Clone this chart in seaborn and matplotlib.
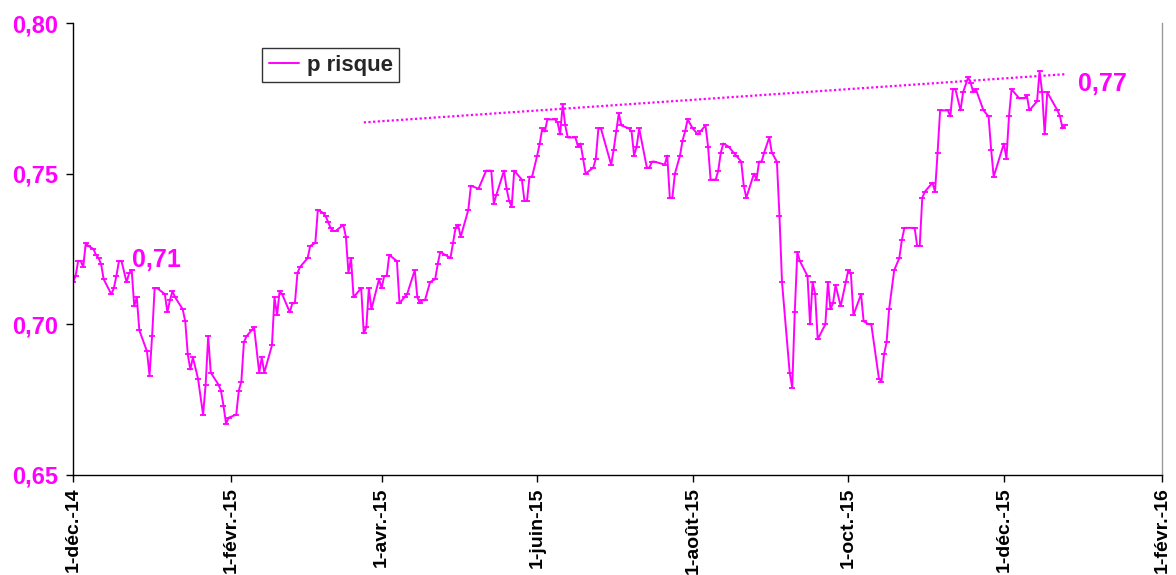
import matplotlib
matplotlib.use("Agg")
import matplotlib.pyplot as plt
import pandas as pd
import seaborn as sns

# Daily "p risque" readings, Dec 2014 - Dec 2015
obs_dates = [
    "2014-12-01", "2014-12-02", "2014-12-03", "2014-12-04", "2014-12-05", "2014-12-06",
    "2014-12-07", "2014-12-09", "2014-12-10", "2014-12-11", "2014-12-12", "2014-12-13",
    "2014-12-16", "2014-12-17", "2014-12-18", "2014-12-19", "2014-12-20", "2014-12-22",
    "2014-12-23", "2014-12-24", "2014-12-25", "2014-12-26", "2014-12-27", "2014-12-30",
    "2014-12-31",
    "2015-01-01", "2015-01-02", "2015-01-03", "2015-01-06", "2015-01-07", "2015-01-08",
    "2015-01-09", "2015-01-10", "2015-01-13", "2015-01-14", "2015-01-15", "2015-01-16",
    "2015-01-17", "2015-01-19", "2015-01-21", "2015-01-22", "2015-01-23", "2015-01-24",
    "2015-01-27", "2015-01-28", "2015-01-29", "2015-01-30", "2015-01-31",
    "2015-02-03", "2015-02-04", "2015-02-05", "2015-02-06", "2015-02-07", "2015-02-09",
    "2015-02-10", "2015-02-12", "2015-02-13", "2015-02-14", "2015-02-17", "2015-02-18",
    "2015-02-19", "2015-02-20", "2015-02-21", "2015-02-24", "2015-02-25", "2015-02-26",
    "2015-02-27", "2015-02-28",
    "2015-03-03", "2015-03-04", "2015-03-06", "2015-03-07", "2015-03-09", "2015-03-10",
    "2015-03-11", "2015-03-12", "2015-03-13", "2015-03-14", "2015-03-17", "2015-03-18",
    "2015-03-19", "2015-03-20", "2015-03-21", "2015-03-24", "2015-03-25", "2015-03-26",
    "2015-03-27", "2015-03-28", "2015-03-31",
    "2015-04-01", "2015-04-02", "2015-04-03", "2015-04-04", "2015-04-07", "2015-04-08",
    "2015-04-10", "2015-04-11", "2015-04-14", "2015-04-15", "2015-04-16", "2015-04-17",
    "2015-04-18", "2015-04-20", "2015-04-22", "2015-04-23", "2015-04-24", "2015-04-26",
    "2015-04-28", "2015-04-29", "2015-04-30",
    "2015-05-01", "2015-05-02", "2015-05-05", "2015-05-06", "2015-05-09", "2015-05-12",
    "2015-05-14", "2015-05-15", "2015-05-16", "2015-05-19", "2015-05-20", "2015-05-21",
    "2015-05-22", "2015-05-23", "2015-05-26", "2015-05-27", "2015-05-28", "2015-05-29",
    "2015-05-30",
    "2015-06-01", "2015-06-02", "2015-06-03", "2015-06-04", "2015-06-05", "2015-06-08",
    "2015-06-09", "2015-06-10", "2015-06-11", "2015-06-12", "2015-06-13", "2015-06-16",
    "2015-06-17", "2015-06-18", "2015-06-19", "2015-06-20", "2015-06-23", "2015-06-24",
    "2015-06-25", "2015-06-26", "2015-06-30",
    "2015-07-01", "2015-07-02", "2015-07-03", "2015-07-04", "2015-07-07", "2015-07-08",
    "2015-07-09", "2015-07-10", "2015-07-11", "2015-07-14", "2015-07-15", "2015-07-16",
    "2015-07-17", "2015-07-21", "2015-07-22", "2015-07-23", "2015-07-24", "2015-07-25",
    "2015-07-27", "2015-07-28", "2015-07-29", "2015-07-30",
    "2015-08-01", "2015-08-03", "2015-08-04", "2015-08-06", "2015-08-07", "2015-08-08",
    "2015-08-10", "2015-08-11", "2015-08-12", "2015-08-13", "2015-08-15", "2015-08-17",
    "2015-08-18", "2015-08-20", "2015-08-21", "2015-08-22", "2015-08-25", "2015-08-26",
    "2015-08-27", "2015-08-28", "2015-08-29", "2015-08-31",
    "2015-09-01", "2015-09-03", "2015-09-04", "2015-09-05", "2015-09-08", "2015-09-09",
    "2015-09-10", "2015-09-11", "2015-09-12", "2015-09-15", "2015-09-16", "2015-09-17",
    "2015-09-18", "2015-09-19", "2015-09-22", "2015-09-23", "2015-09-24", "2015-09-25",
    "2015-09-26", "2015-09-28", "2015-09-30",
    "2015-10-01", "2015-10-02", "2015-10-03", "2015-10-06", "2015-10-07", "2015-10-09",
    "2015-10-10", "2015-10-13", "2015-10-14", "2015-10-15", "2015-10-16", "2015-10-17",
    "2015-10-19", "2015-10-21", "2015-10-22", "2015-10-23", "2015-10-27", "2015-10-28",
    "2015-10-29", "2015-10-30", "2015-10-31",
    "2015-11-03", "2015-11-04", "2015-11-05", "2015-11-06", "2015-11-09", "2015-11-10",
    "2015-11-11", "2015-11-12", "2015-11-14", "2015-11-15", "2015-11-17", "2015-11-18",
    "2015-11-19", "2015-11-20", "2015-11-23", "2015-11-25", "2015-11-26", "2015-11-27",
    "2015-12-01", "2015-12-02", "2015-12-03", "2015-12-04", "2015-12-07", "2015-12-09",
    "2015-12-10", "2015-12-11", "2015-12-14", "2015-12-15", "2015-12-16", "2015-12-17",
    "2015-12-18", "2015-12-22", "2015-12-23", "2015-12-24", "2015-12-25",
]

p_risque = [
    0.714, 0.716, 0.721, 0.721, 0.719, 0.727,
    0.726, 0.725, 0.723, 0.722, 0.720, 0.715,
    0.710, 0.712, 0.716, 0.721, 0.721, 0.714,
    0.717, 0.718, 0.706, 0.709, 0.698, 0.691,
    0.683,
    0.696, 0.712, 0.712, 0.710, 0.704, 0.708,
    0.711, 0.709, 0.705, 0.701, 0.690, 0.685,
    0.689, 0.682, 0.670, 0.680, 0.696, 0.684,
    0.680, 0.678, 0.673, 0.667, 0.669,
    0.670, 0.678, 0.681, 0.694, 0.696, 0.698,
    0.699, 0.684, 0.689, 0.684, 0.693, 0.709,
    0.703, 0.711, 0.710, 0.704, 0.707, 0.707,
    0.717, 0.719,
    0.722, 0.726, 0.727, 0.738, 0.737, 0.736,
    0.734, 0.732, 0.731, 0.731, 0.733, 0.729,
    0.717, 0.722, 0.709, 0.712, 0.697, 0.699,
    0.712, 0.705, 0.715,
    0.712, 0.716, 0.716, 0.723, 0.721, 0.707,
    0.709, 0.710, 0.718, 0.709, 0.707, 0.708,
    0.708, 0.714, 0.715, 0.720, 0.724, 0.723,
    0.722, 0.727, 0.732,
    0.733, 0.729, 0.738, 0.746, 0.745, 0.751,
    0.751, 0.740, 0.743, 0.751, 0.745, 0.741,
    0.739, 0.751, 0.748, 0.741, 0.741, 0.749,
    0.749,
    0.756, 0.760, 0.765, 0.764, 0.768, 0.768,
    0.767, 0.763, 0.773, 0.766, 0.762, 0.762,
    0.759, 0.760, 0.755, 0.750, 0.752, 0.755,
    0.765, 0.765, 0.753,
    0.758, 0.764, 0.770, 0.766, 0.765, 0.764,
    0.756, 0.759, 0.765, 0.752, 0.752, 0.754,
    0.754, 0.753, 0.756, 0.742, 0.742, 0.750,
    0.756, 0.761, 0.764, 0.768,
    0.765, 0.763, 0.764, 0.766, 0.759, 0.748,
    0.748, 0.751, 0.757, 0.760, 0.759, 0.757,
    0.756, 0.754, 0.746, 0.742, 0.750, 0.748,
    0.754, 0.754, 0.757, 0.762,
    0.757, 0.754, 0.736, 0.714, 0.684, 0.679,
    0.704, 0.724, 0.721, 0.716, 0.700, 0.714,
    0.710, 0.695, 0.700, 0.714, 0.705, 0.707,
    0.713, 0.706, 0.714,
    0.718, 0.717, 0.703, 0.710, 0.701, 0.700,
    0.700, 0.682, 0.681, 0.690, 0.694, 0.705,
    0.718, 0.722, 0.728, 0.732, 0.732, 0.726,
    0.726, 0.742, 0.744,
    0.747, 0.744, 0.757, 0.771, 0.771, 0.769,
    0.778, 0.778, 0.771, 0.777, 0.782, 0.780,
    0.777, 0.778, 0.771, 0.769, 0.758, 0.749,
    0.760, 0.755, 0.769, 0.778, 0.775, 0.775,
    0.776, 0.771, 0.774, 0.784, 0.777, 0.763,
    0.777, 0.771, 0.769, 0.765, 0.766,
]

# Rising line through the upper peaks
trend_dates = ["2015-03-25", "2015-12-25"]
trend_values = [0.767, 0.783]

# Value call-outs
callout_text = ["0,71", "0,77"]
callout_dates = ["2014-12-24", "2015-12-30"]
callout_values = [0.719, 0.7775]

# Axis ticks
x_tick_dates = ["2014-12-01", "2015-02-01", "2015-04-01", "2015-06-01",
                "2015-08-01", "2015-10-01", "2015-12-01", "2016-02-01"]
x_tick_labels = ["1-déc.-14", "1-févr.-15", "1-avr.-15", "1-juin-15",
                 "1-août-15", "1-oct.-15", "1-déc.-15", "1-févr.-16"]
y_ticks = [0.65, 0.70, 0.75, 0.80]
y_tick_labels = ["0,65", "0,70", "0,75", "0,80"]

MAGENTA = "#FF00FF"

sns.set_style("ticks")
plt.rcParams["font.family"] = ["Liberation Sans", "DejaVu Sans"]
plt.rcParams["font.weight"] = "bold"

df = pd.DataFrame({"date": pd.to_datetime(obs_dates), "p risque": p_risque})

fig = plt.figure(figsize=(11.76, 5.75), dpi=100)
ax = fig.add_axes([0.0621, 0.174, 0.926, 0.786])

sns.lineplot(data=df, x="date", y="p risque", ax=ax, color=MAGENTA,
             linewidth=1.4, marker="_", markersize=4, markeredgewidth=1.3,
             markeredgecolor=MAGENTA, estimator=None, label="p risque")

sns.lineplot(x=pd.to_datetime(trend_dates), y=trend_values, ax=ax,
             color=MAGENTA, linewidth=1.6, linestyle=(0, (1, 1.1)),
             legend=False)

for txt, d, v in zip(callout_text, callout_dates, callout_values):
    ax.text(pd.Timestamp(d), v, txt, color=MAGENTA, fontsize=18,
            fontweight="bold", ha="left", va="baseline")

ax.set_xlim(pd.Timestamp("2014-12-01"), pd.Timestamp("2016-02-01"))
ax.set_ylim(0.65, 0.80)
ax.set_xticks(pd.to_datetime(x_tick_dates))
ax.set_xticklabels(x_tick_labels, rotation=90, fontsize=14,
                   fontweight="bold", color="black")
ax.set_yticks(y_ticks)
ax.set_yticklabels(y_tick_labels, fontsize=17, fontweight="bold",
                   color=MAGENTA)
ax.set_xlabel("")
ax.set_ylabel("")

ax.tick_params(axis="both", direction="out", length=5, width=1, color="black")
ax.tick_params(axis="y", pad=6)
ax.tick_params(axis="x", pad=4)

for side in ["left", "bottom"]:
    ax.spines[side].set_color("black")
    ax.spines[side].set_linewidth(1.0)
ax.spines["right"].set_visible(True)
ax.spines["right"].set_color("#9a9a9a")
ax.spines["right"].set_linewidth(1.0)
ax.spines["top"].set_visible(False)

leg = ax.legend(loc="upper left", bbox_to_anchor=(0.1736, 0.945),
                frameon=True, fancybox=False, shadow=False,
                prop={"weight": "bold", "size": 16}, handlelength=1.35,
                handletextpad=0.35, borderpad=0.3, borderaxespad=0)
leg.get_frame().set_edgecolor("black")
leg.get_frame().set_linewidth(1.0)

fig.savefig("out.png", dpi=100)
